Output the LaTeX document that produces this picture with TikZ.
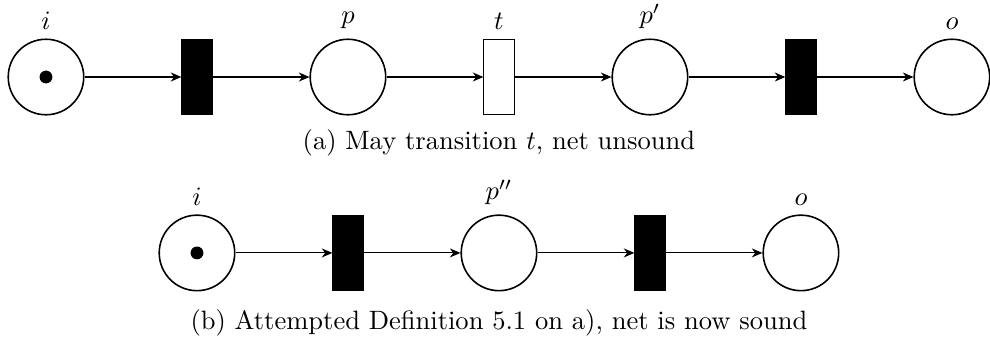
\documentclass[tikz,border=0pt]{standalone}
\usetikzlibrary{arrows.meta}
\begin{document}
\begin{tikzpicture}[
  place/.style={circle,draw,semithick,minimum size=1cm,inner sep=0pt},
  trans/.style={rectangle,draw,fill=black,minimum width=0.4cm,minimum height=1cm,inner sep=0pt},
  opentrans/.style={rectangle,draw,fill=white,minimum width=0.4cm,minimum height=1cm,inner sep=0pt},
  token/.style={circle,fill=black,minimum size=0.17cm,inner sep=0pt},
  arc/.style={-{Stealth[length=1.4mm,width=1.2mm,inset=0.45mm]}},
  caption/.style={font=\normalsize}
]
\useasboundingbox (-0.609,1.02) rectangle (12.504,-3.523);
% (a)
\node[place,label=above:$i$] (i1) at (0,0) {};
\node[token] (k1) at (i1.center) {};
\node[trans] (t1) at (2,0) {};
\node[place,label=above:$p$] (p) at (4,0) {};
\node[opentrans,label=above:$t$] (t) at (6,0) {};
\node[place,label=above:$p'$] (pp) at (8,0) {};
\node[trans] (t2) at (10,0) {};
\node[place,label=above:$o$] (o1) at (12,0) {};
\draw[arc] (i1) -- (t1);
\draw[arc] (t1) -- (p);
\draw[arc] (p) -- (t);
\draw[arc] (t) -- (pp);
\draw[arc] (pp) -- (t2);
\draw[arc] (t2) -- (o1);
\node[caption] (capa) at (6,-0.87) {(a) May transition $t$, net unsound};
% (b)
\node[place,label=above:$i$] (i2) at (2,-2.33) {};
\node[token] (k2) at (i2.center) {};
\node[trans] (t3) at (4,-2.33) {};
\node[place,label=above:$p''$] (ppp) at (6,-2.33) {};
\node[trans] (t4) at (8,-2.33) {};
\node[place,label=above:$o$] (o2) at (10,-2.33) {};
\draw[arc] (i2) -- (t3);
\draw[arc] (t3) -- (ppp);
\draw[arc] (ppp) -- (t4);
\draw[arc] (t4) -- (o2);
\node[caption] (capb) at (6,-3.25) {(b) Attempted Definition 5.1 on a), net is now sound};
\end{tikzpicture}
\end{document}
